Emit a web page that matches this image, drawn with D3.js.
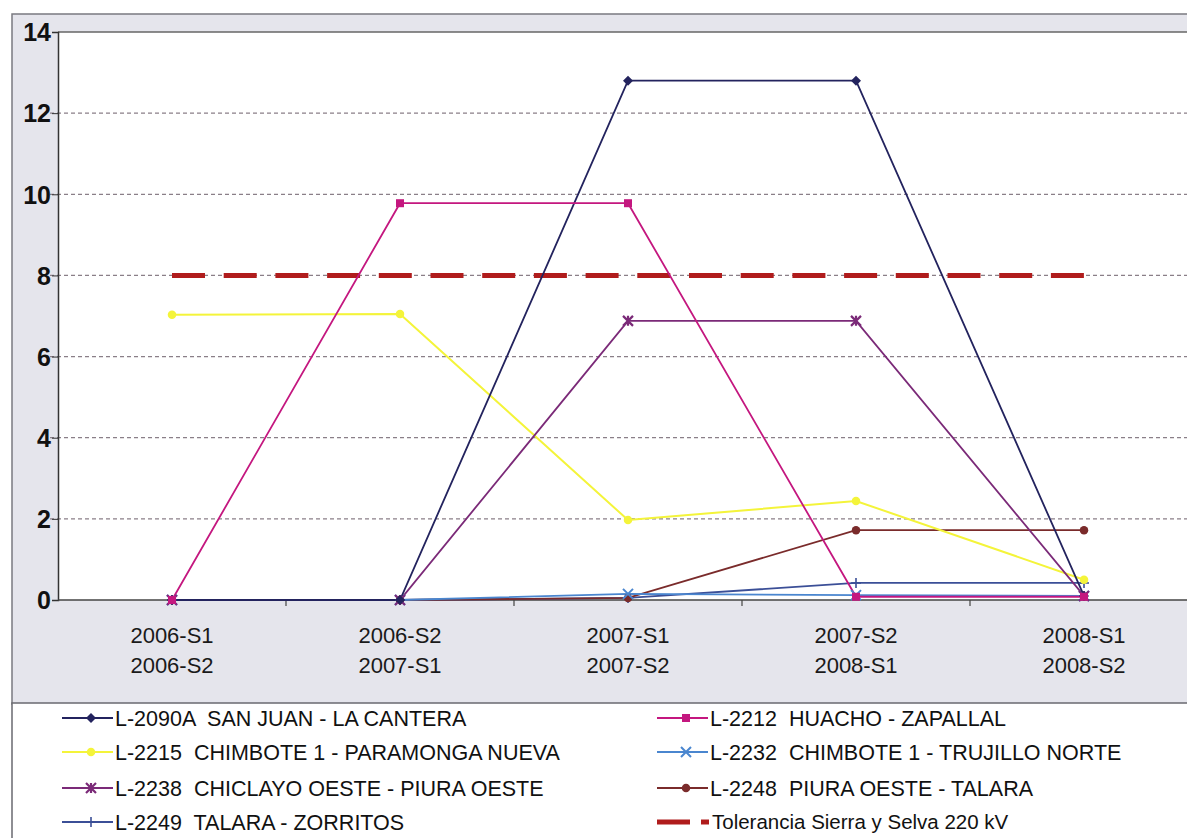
<!DOCTYPE html>
<html><head><meta charset="utf-8">
<script src="https://cdn.jsdelivr.net/npm/d3@7"></script>
<style>body{margin:0;background:#fff}svg{display:block}</style>
</head><body><svg id="c" width="1187" height="838"></svg>
<script>
const categories = [["2006-S1","2006-S2"],["2006-S2","2007-S1"],["2007-S1","2007-S2"],["2007-S2","2008-S1"],["2008-S1","2008-S2"]];
const yTicks = [0,2,4,6,8,10,12,14];
const seriesNames = ["L-2090A  SAN JUAN - LA CANTERA","L-2212  HUACHO - ZAPALLAL","L-2215  CHIMBOTE 1 - PARAMONGA NUEVA","L-2232  CHIMBOTE 1 - TRUJILLO NORTE","L-2238  CHICLAYO OESTE - PIURA OESTE","L-2248  PIURA OESTE - TALARA","L-2249  TALARA - ZORRITOS"];
const s2090 = [0, 0, 12.8, 12.8, 0.1];
const s2212 = [0, 9.78, 9.78, 0.08, 0.08];
const s2215 = [7.03, 7.05, 1.97, 2.44, 0.5];
const s2232 = [0, 0, 0.15, 0.12, 0.1];
const s2238 = [0, 0, 6.88, 6.88, 0.1];
const s2248 = [0, 0, 0.05, 1.72, 1.72];
const s2249 = [0, 0, 0.05, 0.42, 0.42];
const tolName = "Tolerancia Sierra y Selva 220 kV";
const tolValues = [8, 8, 8, 8, 8];

const series = [
  {name: seriesNames[0], values: s2090, color: "#23235e", marker: "diamond"},
  {name: seriesNames[1], values: s2212, color: "#c4177f", marker: "square"},
  {name: seriesNames[2], values: s2215, color: "#f4f43a", marker: "circle"},
  {name: seriesNames[3], values: s2232, color: "#4a86cf", marker: "x"},
  {name: seriesNames[4], values: s2238, color: "#7b2a78", marker: "star"},
  {name: seriesNames[5], values: s2248, color: "#7a2b2b", marker: "circle"},
  {name: seriesNames[6], values: s2249, color: "#3b4f97", marker: "plus"}
];

const FONT = "Arial, 'Liberation Sans', sans-serif";
const svg = d3.select("#c");
const L = 58, T = 32, B = 600, R = 1198;
const idx = d3.range(categories.length);
const x = d3.scalePoint().domain(idx).range([L, R]).padding(0.5);
const y = d3.scaleLinear().domain([0, 14]).range([B, T]);
const step = x.step();

// outer grey frame
svg.append("rect").attr("x",12).attr("y",14).attr("width",1187).attr("height",690)
  .attr("fill","#e5e5ec").attr("stroke","#7a7a80").attr("stroke-width",1.5);
// legend area
svg.append("rect").attr("x",12).attr("y",703).attr("width",1187).attr("height",140)
  .attr("fill","#fff").attr("stroke","#6a6a70").attr("stroke-width",1.5);
// plot area
svg.append("rect").attr("x",L).attr("y",T).attr("width",R-L).attr("height",B-T).attr("fill","#fff");
svg.append("line").attr("x1",L).attr("x2",R).attr("y1",T).attr("y2",T).attr("stroke","#666").attr("stroke-width",1.5);

// gridlines
svg.append("g").selectAll("line").data(yTicks.filter(d=>d>0 && d<14)).join("line")
  .attr("x1",L-8).attr("x2",R).attr("y1",d=>y(d)).attr("y2",d=>y(d))
  .attr("stroke","#8a7f88").attr("stroke-width",1.2).attr("stroke-dasharray","4,3");

// y axis
const yAxis = d3.axisLeft(y).tickValues(yTicks).tickSize(6).tickFormat(d3.format("d"));
const gy = svg.append("g").attr("transform",`translate(${L},0)`).call(yAxis);
gy.select(".domain").attr("stroke","#333").attr("stroke-width",1.5);
gy.selectAll(".tick line").attr("stroke","#333");
gy.selectAll(".tick text").attr("font-family",FONT).attr("font-size",25).attr("font-weight","bold")
  .attr("fill","#111").attr("x",-7).attr("dy","0.35em");

// x axis line and category ticks
svg.append("line").attr("x1",L).attr("x2",R).attr("y1",B).attr("y2",B).attr("stroke","#444").attr("stroke-width",1.5);
svg.append("g").selectAll("line").data(idx.slice(1)).join("line")
  .attr("x1",d=>x(d)-step/2).attr("x2",d=>x(d)-step/2).attr("y1",B).attr("y2",B+6)
  .attr("stroke","#444").attr("stroke-width",1.2);
const xl = svg.append("g").selectAll("text").data(idx).join("text")
  .attr("x",d=>x(d)).attr("y",643).attr("text-anchor","middle")
  .attr("font-family",FONT).attr("font-size",22).attr("fill","#1a1a1a");
xl.append("tspan").attr("x",d=>x(d)).text(d=>categories[d][0]);
xl.append("tspan").attr("x",d=>x(d)).attr("dy",30).text(d=>categories[d][1]);

// tolerance line
const line = d3.line().x((d,i)=>x(i)).y(d=>y(d));
svg.append("path").datum(tolValues).attr("d",line).attr("fill","none")
  .attr("stroke","#b01c1c").attr("stroke-width",5).attr("stroke-dasharray","33,18.7");

function marker(g, type, color, size){
  const s = size;
  if(type==="diamond") g.append("path").attr("d",`M0,${-s}L${s},0L0,${s}L${-s},0Z`).attr("fill",color);
  else if(type==="square") g.append("rect").attr("x",-s*0.8).attr("y",-s*0.8).attr("width",s*1.6).attr("height",s*1.6).attr("fill",color);
  else if(type==="circle") g.append("circle").attr("r",s*0.85).attr("fill",color);
  else if(type==="x") g.append("path").attr("d",`M${-s},${-s}L${s},${s}M${-s},${s}L${s},${-s}`).attr("stroke",color).attr("stroke-width",2);
  else if(type==="star") g.append("path").attr("d",`M${-s},${-s}L${s},${s}M${-s},${s}L${s},${-s}M0,${-s}L0,${s}`).attr("stroke",color).attr("stroke-width",2.2);
  else if(type==="plus") g.append("path").attr("d",`M${-s},0L${s},0M0,${-s}L0,${s}`).attr("stroke",color).attr("stroke-width",1.6);
}

// draw series in reverse so first on top
const drawOrder = [6,5,3,2,4,0,1];
drawOrder.forEach(k=>{
  const s = series[k];
  svg.append("path").datum(s.values).attr("d",line).attr("fill","none")
    .attr("stroke",s.color).attr("stroke-width",k===2?2:1.8);
});
drawOrder.forEach(k=>{
  const s = series[k];
  s.values.forEach((v,i)=>{
    const g = svg.append("g").attr("transform",`translate(${x(i)},${y(v)})`);
    marker(g, s.marker, s.color, 5);
  });
});

// legend
const legendItems = series.map(s=>({name:s.name,color:s.color,marker:s.marker}));
legendItems.push({name: tolName, color:"#b01c1c", marker:"tol"});
const rowsY = [718, 752, 788, 822];
legendItems.forEach((it,i)=>{
  const col = i%2, row = Math.floor(i/2);
  const x0 = col===0 ? 62 : 657, yy = rowsY[row];
  const g = svg.append("g");
  if(it.marker==="tol"){
    g.append("line").attr("x1",x0).attr("x2",x0+33).attr("y1",yy).attr("y2",yy).attr("stroke",it.color).attr("stroke-width",5);
    g.append("line").attr("x1",x0+44).attr("x2",x0+52).attr("y1",yy).attr("y2",yy).attr("stroke",it.color).attr("stroke-width",5);
  } else {
    g.append("line").attr("x1",x0).attr("x2",x0+51).attr("y1",yy).attr("y2",yy).attr("stroke",it.color).attr("stroke-width",2);
    const m = g.append("g").attr("transform",`translate(${x0+29},${yy})`);
    marker(m, it.marker, it.color, 5);
  }
  g.append("text").attr("x",it.marker==="tol"?x0+55:x0+53).attr("y",yy).attr("dy","0.35em")
    .attr("font-family",FONT).attr("font-size",it.marker==="tol"?20.5:21.5).attr("fill","#111")
    .attr("xml:space","preserve").text(it.name);
});
</script></body></html>
